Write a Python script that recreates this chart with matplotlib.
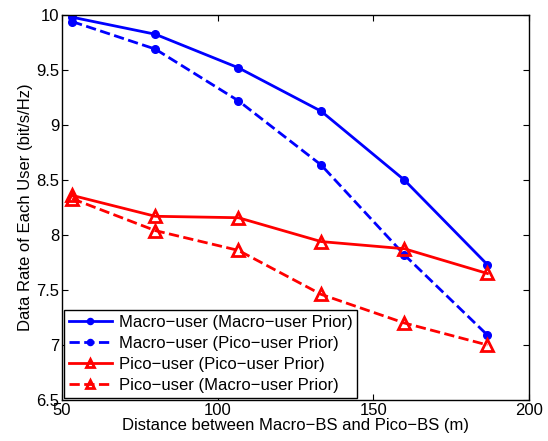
import matplotlib
matplotlib.use("Agg")
import matplotlib.pyplot as plt

plt.rcParams['font.family'] = ['Liberation Sans', 'DejaVu Sans']

# distance between macro-BS and pico-BS (m)
distance = [53.3, 80, 106.7, 133.3, 160, 186.7]

macro_macro_prior = [9.98, 9.825, 9.52, 9.125, 8.50, 7.73]
macro_pico_prior = [9.94, 9.69, 9.22, 8.636, 7.82, 7.09]
pico_pico_prior = [8.36, 8.17, 8.157, 7.94, 7.875, 7.65]
pico_macro_prior = [8.33, 8.04, 7.86, 7.46, 7.20, 7.00]

labels = ["Macro\u2212user (Macro\u2212user Prior)",
          "Macro\u2212user (Pico\u2212user Prior)",
          "Pico\u2212user (Pico\u2212user Prior)",
          "Pico\u2212user (Macro\u2212user Prior)"]

fig = plt.figure(figsize=(5.48, 4.41), dpi=100)
ax = fig.add_axes([0.113, 0.093, 0.852, 0.873])

ax.plot(distance, macro_macro_prior, '-', color='blue', lw=2, marker='o', ms=5.5, label=labels[0])
ax.plot(distance, macro_pico_prior, '--', color='blue', lw=2, marker='o', ms=5.5, label=labels[1])
ax.plot(distance, pico_pico_prior, '-', color='red', lw=2, marker='^', ms=8, mew=2,
        mfc='none', label=labels[2])
ax.plot(distance, pico_macro_prior, '--', color='red', lw=2, marker='^', ms=8, mew=2,
        mfc='none', label=labels[3])

ax.set_xlim(50, 200)
ax.set_ylim(6.5, 10)
ax.set_xticks([50, 100, 150, 200])
ax.set_yticks([6.5, 7, 7.5, 8, 8.5, 9, 9.5, 10])
ax.set_yticklabels(['6.5', '7', '7.5', '8', '8.5', '9', '9.5', '10'])
ax.tick_params(direction='in', top=True, right=True, labelsize=12, length=4, pad=2)
for s in ax.spines.values():
    s.set_linewidth(1.0)

ax.set_xlabel("Distance between Macro\u2212BS and Pico\u2212BS (m)", fontsize=12, labelpad=0)
ax.set_ylabel("Data Rate of Each User (bit/s/Hz)", fontsize=12, labelpad=2)

leg = ax.legend(loc='lower left', fontsize=12, fancybox=False, framealpha=1,
                edgecolor='black', borderaxespad=0.1, handlelength=2.6,
                labelspacing=0.36, borderpad=0.3, handletextpad=0.4, markerscale=0.8)
leg.get_frame().set_linewidth(1.0)

fig.savefig("out.png", dpi=100)
